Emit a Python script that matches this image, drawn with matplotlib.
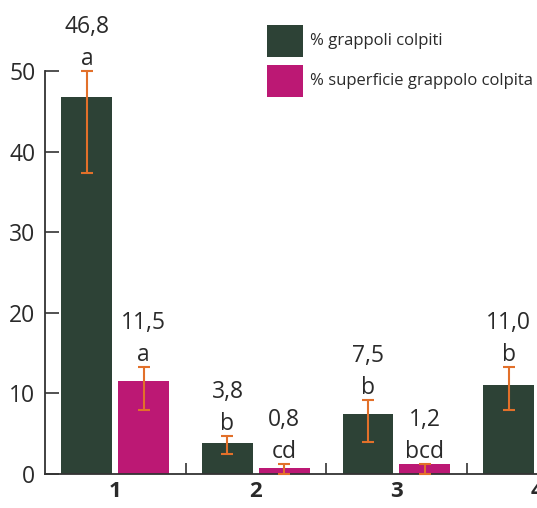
import matplotlib
matplotlib.use("Agg")
import matplotlib.pyplot as plt
from matplotlib.patches import Rectangle
import numpy as np

plt.rcParams['font.family'] = ['Open Sans', 'DejaVu Sans']

categories = ["1", "2", "3", "4"]
series_names = ["% grappoli colpiti", "% superficie grappolo colpita"]
grappoli = [46.8, 3.8, 7.5, 11.0]
superficie = [11.5, 0.8, 1.2, 2.5]
grappoli_err_low = [37.4, 2.5, 4.0, 7.9]
grappoli_err_high = [50.0, 4.7, 9.2, 13.3]
superficie_err_low = [7.9, 0.0, 0.0, 1.0]
superficie_err_high = [13.3, 1.25, 1.25, 4.0]
grappoli_labels = ["46,8", "3,8", "7,5", "11,0"]
grappoli_letters = ["a", "b", "b", "b"]
superficie_labels = ["11,5", "0,8", "1,2", ""]
superficie_letters = ["a", "cd", "bcd", ""]
yticks = [0, 10, 20, 30, 40, 50]

c_dark = "#2d4236"
c_pink = "#bc1874"
c_err = "#e2702a"
c_text = "#2a2a2a"

W, H = 537, 508
fig = plt.figure(figsize=(W / 100, H / 100), dpi=100)
ax = fig.add_axes([45 / W, (H - 474) / H, 1 - 45 / W, (474 - 71) / H])

x = np.arange(1, len(categories) + 1)
bw = 0.362
off = 0.202

for vals, lo, hi, col, dx, labs, lets in [
    (grappoli, grappoli_err_low, grappoli_err_high, c_dark, -off, grappoli_labels, grappoli_letters),
    (superficie, superficie_err_low, superficie_err_high, c_pink, off, superficie_labels, superficie_letters),
]:
    vals = np.array(vals)
    lo = np.array(lo)
    hi = np.array(hi)
    xs = x + dx
    ax.bar(xs, vals, width=bw, color=col, zorder=2, clip_on=False)
    ax.errorbar(xs, vals, yerr=[vals - lo, hi - vals], fmt="none", ecolor=c_err,
                elinewidth=1.5, capsize=4.3, capthick=1.5, zorder=3, clip_on=False)
    for xi, h, lb, lt in zip(xs, hi, labs, lets):
        if lt:
            ax.annotate(lt, (xi, h), xytext=(0, 12), textcoords="offset pixels",
                        ha="center", va="center", fontsize=16.5, color=c_text,
                        annotation_clip=False)
        if lb:
            ax.annotate(lb, (xi, h), xytext=(0, 44), textcoords="offset pixels",
                        ha="center", va="center", fontsize=16.5, color=c_text,
                        annotation_clip=False)

ax.set_xlim(0.5, 0.5 + (W - 45) / 141)
ax.set_ylim(0, 50)
ax.set_yticks(yticks)
ax.set_yticklabels([str(t) for t in yticks], fontsize=16.5, color=c_text)
ax.tick_params(axis="y", direction="in", length=10, width=1.2, color="#333333", pad=7)

ax.set_xticks(x[:-1] + 0.5)
ax.set_xticklabels([])
ax.tick_params(axis="x", which="major", direction="in", length=8, width=1.2, color="#333333")
ax.set_xticks(x, minor=True)
ax.set_xticklabels(categories, minor=True, fontsize=16, fontweight="bold", color=c_text)
ax.tick_params(axis="x", which="minor", length=0, pad=5)

for s in ["top", "right"]:
    ax.spines[s].set_visible(False)
for s in ["left", "bottom"]:
    ax.spines[s].set_linewidth(1.3)
    ax.spines[s].set_color("#333333")

# legend drawn in figure pixel coordinates
leg_x, leg_y0, sw, sh, pitch = 267, 25, 36, 32, 40
for i, (name, col) in enumerate(zip(series_names, [c_dark, c_pink])):
    top = leg_y0 + i * pitch
    fig.add_artist(Rectangle((leg_x / W, 1 - (top + sh) / H), sw / W, sh / H,
                             transform=fig.transFigure, facecolor=col, edgecolor="none"))
    fig.text((leg_x + sw + 7) / W, 1 - (top + sh / 2) / H, name, ha="left", va="center",
             fontsize=12, color=c_text)

fig.savefig("out.png", dpi=100)
